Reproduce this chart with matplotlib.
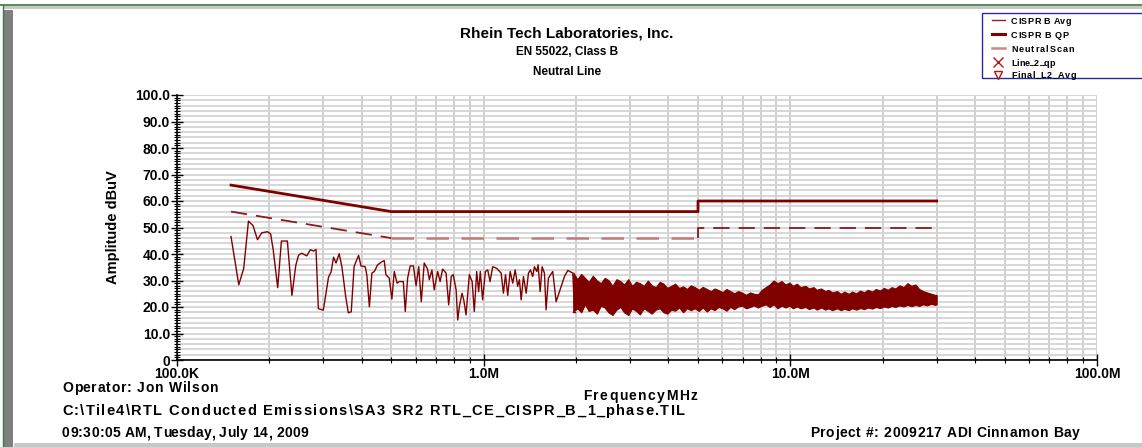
import numpy as np
import matplotlib
matplotlib.use("Agg")
import matplotlib.pyplot as plt
from matplotlib.lines import Line2D
from matplotlib.patches import Rectangle
from matplotlib.ticker import FixedLocator, FixedFormatter, NullFormatter, MultipleLocator

plt.rcParams['font.family'] = ['Liberation Sans', 'DejaVu Sans']
plt.rcParams['font.weight'] = 'bold'

# ---------------- data ----------------
qp_freq = [0.15, 0.5, 0.5, 5.0, 5.0, 30.0]
qp_level = [66, 56, 56, 56, 60, 60]

avg_freq = [0.15, 0.5, 5.0, 5.0, 30.0]
avg_level = [56, 46, 46, 50, 50]

scan_freq = [0.150, 0.159, 0.165, 0.171, 0.177, 0.183, 0.189, 0.197, 0.202, 0.206,
             0.213, 0.219, 0.229, 0.237, 0.244, 0.249, 0.255, 0.265, 0.272, 0.279,
             0.284, 0.289, 0.300, 0.312, 0.318, 0.324, 0.330, 0.338, 0.345, 0.355,
             0.362, 0.370, 0.378, 0.391, 0.398, 0.411, 0.416, 0.424, 0.432, 0.440,
             0.451, 0.466, 0.474, 0.480, 0.492, 0.502, 0.511, 0.522, 0.531, 0.547,
             0.555, 0.565, 0.576, 0.590, 0.602, 0.614, 0.626, 0.640, 0.656, 0.665,
             0.678, 0.690, 0.708, 0.721, 0.735, 0.754, 0.769, 0.784, 0.796, 0.813,
             0.823, 0.833, 0.850, 0.861, 0.876, 0.898, 0.917, 0.932, 0.949, 0.963,
             0.975, 0.992, 1.013, 1.031, 1.049, 1.070, 1.103, 1.140, 1.160, 1.178,
             1.198, 1.220, 1.244, 1.267, 1.291, 1.308, 1.325, 1.348, 1.376, 1.400,
             1.421, 1.445, 1.464, 1.490, 1.505, 1.528, 1.551, 1.578, 1.598, 1.626,
             1.680, 1.723, 1.834, 1.881, 1.953, 1.978]
scan_level = [46.6, 28.4, 34.5, 52.4, 50.7, 45.4, 48.0, 48.4, 47.6, 41.4,
              27.3, 44.9, 44.9, 24.4, 35.7, 39.5, 40.3, 39.3, 41.6, 41.1,
              41.7, 19.4, 18.8, 31.3, 33.2, 38.8, 36.6, 40.1, 35.1, 23.8,
              17.8, 18.2, 35.3, 39.5, 35.5, 35.2, 32.0, 20.1, 32.8, 33.4,
              35.9, 37.1, 37.5, 32.2, 30.9, 23.0, 33.4, 29.0, 29.6, 29.6,
              18.3, 30.9, 35.5, 35.5, 28.0, 35.2, 22.0, 36.6, 34.3, 30.3,
              34.0, 26.5, 33.4, 29.6, 34.3, 32.8, 20.8, 31.5, 32.2, 26.5,
              15.1, 20.1, 25.2, 22.7, 17.0, 32.2, 29.6, 18.3, 33.4, 25.8,
              33.4, 22.7, 33.4, 34.0, 29.6, 35.2, 34.6, 32.8, 25.2, 32.2,
              24.4, 33.4, 29.0, 34.0, 27.8, 30.3, 22.7, 31.5, 25.2, 32.8,
              34.0, 31.5, 35.2, 33.4, 35.9, 25.8, 35.2, 32.8, 18.9, 30.9,
              33.4, 22.0, 31.5, 33.8, 32.8, 18.3]

# dense part of the scan (2-30 MHz): frequency, upper and lower edge of the trace
band_rows = [
    (1.96, 33.0, 18.3), (2.02, 30.5, 19.5), (2.08, 32.5, 18.0), (2.14, 31.0, 21.0),
    (2.20, 29.5, 18.5), (2.27, 31.8, 19.0), (2.34, 30.0, 17.5), (2.41, 29.0, 20.5),
    (2.48, 31.0, 19.8), (2.55, 30.2, 18.0), (2.63, 28.0, 17.0), (2.71, 30.5, 19.0),
    (2.79, 29.8, 20.0), (2.87, 28.5, 18.0), (2.96, 30.5, 17.0), (3.05, 28.0, 19.5),
    (3.14, 29.5, 18.5), (3.23, 29.0, 17.2), (3.33, 28.0, 19.5), (3.43, 30.0, 18.5),
    (3.53, 28.2, 17.5), (3.64, 27.5, 19.0), (3.75, 29.5, 19.5), (3.86, 28.8, 18.0),
    (3.97, 27.2, 17.5), (4.09, 28.0, 19.0), (4.21, 28.8, 18.6), (4.34, 27.2, 19.8),
    (4.47, 27.8, 18.0), (4.60, 26.8, 19.5), (4.74, 28.2, 18.8), (4.88, 27.5, 19.5),
    (5.03, 26.5, 18.5), (5.18, 27.6, 19.8), (5.34, 26.8, 18.3), (5.50, 26.0, 19.5),
    (5.66, 27.0, 18.8), (5.83, 26.4, 20.0), (6.01, 25.6, 19.5), (6.19, 26.8, 18.6),
    (6.37, 26.0, 20.0), (6.56, 25.2, 19.2), (6.76, 26.0, 20.2), (6.96, 25.4, 20.5),
    (7.17, 24.6, 19.5), (7.39, 25.5, 20.0), (7.61, 25.0, 20.6), (7.84, 24.8, 19.8),
    (8.07, 26.5, 20.5), (8.31, 27.5, 21.0), (8.56, 28.5, 20.0), (8.82, 30.0, 21.0),
    (9.09, 29.0, 19.5), (9.36, 29.8, 20.5), (9.64, 28.5, 19.8), (9.93, 29.2, 20.5),
    (10.2, 28.0, 19.5), (10.5, 28.8, 20.2), (10.8, 27.5, 19.5), (11.2, 28.0, 20.0),
    (11.5, 27.0, 19.2), (11.9, 27.5, 19.8), (12.2, 26.5, 19.0), (12.6, 27.0, 19.8),
    (13.0, 26.0, 19.0), (13.3, 26.5, 19.5), (13.7, 25.5, 18.8), (14.2, 26.0, 19.5),
    (14.6, 25.0, 18.8), (15.0, 25.8, 19.3), (15.5, 25.0, 18.8), (15.9, 25.8, 19.5),
    (16.4, 25.2, 19.0), (16.9, 26.2, 19.6), (17.4, 25.5, 19.2), (17.9, 26.5, 19.8),
    (18.5, 25.8, 19.4), (19.0, 26.8, 20.0), (19.6, 26.2, 19.6), (20.2, 27.2, 20.2),
    (20.8, 26.5, 19.8), (21.4, 27.5, 20.4), (22.0, 27.0, 20.0), (22.7, 28.2, 20.6),
    (23.4, 27.5, 20.2), (24.1, 29.0, 20.8), (24.8, 28.0, 20.3), (25.6, 28.5, 20.8),
    (26.3, 26.8, 20.4), (27.1, 26.0, 21.0), (27.9, 25.5, 20.6), (28.8, 25.0, 21.2),
    (29.6, 24.6, 20.8), (30.0, 24.5, 21.0),
]
band_freq = [r[0] for r in band_rows]
band_top = [r[1] for r in band_rows]
band_bottom = [r[2] for r in band_rows]

x_tick_values = [0.1, 1.0, 10.0, 100.0]
x_tick_labels = ["100.0K", "1.0M", "10.0M", "100.0M"]
y_tick_values = [0, 10, 20, 30, 40, 50, 60, 70, 80, 90, 100]
y_tick_labels = ["0", "10.0", "20.0", "30.0", "40.0", "50.0", "60.0", "70.0", "80.0", "90.0", "100.0"]

legend_names = ["CISPR B Avg", "CISPR B QP", "NeutralScan", "Line_2_qp", "Final_L2_Avg"]

# ---------------- figure ----------------
W, H = 1142, 447
fig = plt.figure(figsize=(W / 100, H / 100), dpi=100)
renderer = fig.canvas.get_renderer()


def fx(px):
    return px / W


def fy(py):
    return 1 - py / H


def text_width(s, size):
    t = fig.text(0, 0, s, fontsize=size, fontweight='bold')
    w = t.get_window_extent(renderer).width
    t.remove()
    return w


def spaced_text(x0, x1, baseline, s, size):
    """Draw s (bold) with letters spread evenly so that it spans x0..x1 pixels."""
    wl = text_width("l", size)
    pos = [text_width(s[:i] + "l", size) - wl for i in range(len(s))]
    total = text_width(s, size)
    sp = ((x1 - x0) - total) / max(len(s) - 1, 1)
    for i, ch in enumerate(s):
        if ch != ' ':
            fig.text(fx(x0 + pos[i] + i * sp), fy(baseline), ch, ha='left', va='baseline',
                     fontsize=size, fontweight='bold')


ax = fig.add_axes([fx(177), fy(360), (1097 - 177) / W, (360 - 95) / H])
ax.set_xscale('log')
ax.set_xlim(0.1, 100)
ax.set_ylim(0, 100)

# grid
minor_x = [m * 10.0 ** e for e in (-1, 0, 1) for m in range(2, 10)]
for xv in minor_x + x_tick_values:
    ax.axvline(xv, color='#c8c8c8', lw=1.2, zorder=0)
for yv in range(0, 101, 2):
    ax.axhline(yv, color='#d4d4d4', lw=1.3, zorder=0)

dark = '#800000'
# limits
ax.plot(qp_freq, qp_level, color=dark, lw=2.0, zorder=3)
ax.plot(avg_freq[0:2], avg_level[0:2], color='#8b1a1a', lw=1.3, dashes=(9, 5), zorder=3)
ax.plot(avg_freq[1:3], avg_level[1:3], color='#c47a7a', lw=1.8, dashes=(9, 5), zorder=3)
ax.plot(avg_freq[2:5], avg_level[2:5], color='#8b1a1a', lw=1.3, dashes=(9, 5), zorder=3)

# scan
ax.plot(scan_freq, scan_level, color=dark, lw=1.0, zorder=2)
ax.fill_between(band_freq, band_bottom, band_top, facecolor=dark, edgecolor=dark, lw=0.8, zorder=2)
ax.plot([scan_freq[-1], band_freq[0]], [scan_level[-1], band_bottom[0]], color=dark, lw=1.0, zorder=2)

# ticks
ax.xaxis.set_major_locator(FixedLocator(x_tick_values))
ax.xaxis.set_major_formatter(FixedFormatter(x_tick_labels))
ax.xaxis.set_minor_locator(FixedLocator(minor_x))
ax.xaxis.set_minor_formatter(NullFormatter())
ax.yaxis.set_major_locator(FixedLocator(y_tick_values))
ax.yaxis.set_major_formatter(FixedFormatter(y_tick_labels))
ax.yaxis.set_minor_locator(MultipleLocator(1))
ax.tick_params(axis='both', which='major', direction='inout', length=8, width=1, colors='black',
               labelsize=10)
ax.tick_params(axis='both', which='minor', direction='inout', length=4, width=0.8, colors='black')
ax.tick_params(axis='x', which='major', pad=1)
ax.tick_params(axis='y', which='major', pad=1)
for lab in ax.get_xticklabels() + ax.get_yticklabels():
    lab.set_fontweight('bold')
for s in ('top', 'right'):
    ax.spines[s].set_visible(False)
for s in ('left', 'bottom'):
    ax.spines[s].set_color('black')
    ax.spines[s].set_linewidth(1.2)

# axis labels
fig.text(fx(113), fy(227), "Amplitude dBuV", rotation=90, ha='center', va='center',
         fontsize=10.5, fontweight='bold')
spaced_text(583, 697, 400, "FrequencyMHz", 10)

# titles
fig.text(fx(567), fy(33), "Rhein Tech Laboratories, Inc.", ha='center', va='center',
         fontsize=11, fontweight='bold')
fig.text(fx(567), fy(52), "EN 55022, Class B", ha='center', va='center', fontsize=8.5, fontweight='bold')
fig.text(fx(567), fy(72), "Neutral Line", ha='center', va='center', fontsize=8.5, fontweight='bold')

# footer
spaced_text(62, 218, 392, "Operator: Jon Wilson", 10)
spaced_text(62, 685, 415, r"C:\Tile4\RTL Conducted Emissions\SA3 SR2 RTL_CE_CISPR_B_1_phase.TIL", 10.5)
spaced_text(62, 308, 437, "09:30:05 AM, Tuesday, July 14, 2009", 10)
spaced_text(810, 1080, 437, "Project #: 2009217 ADI Cinnamon Bay", 10)

# window frame decorations
fig.add_artist(Line2D([0, 1], [fy(5), fy(5)], color='#3a7a3a', lw=1.2))
fig.add_artist(Rectangle((fx(3), fy(9)), 1 - fx(3), fy(6) - fy(9), color='#c8c8c8', lw=0))
fig.add_artist(Rectangle((fx(4), 0), fx(13) - fx(4), fy(10), color='#808080', lw=0))
fig.add_artist(Line2D([fx(3), fx(3)], [0, fy(5)], color='#3a7a3a', lw=1.0))
fig.add_artist(Rectangle((fx(14), 0), 1 - fx(14), fy(443), color='#c8c8c8', lw=0))

# legend box
fig.add_artist(Rectangle((fx(982), fy(78)), 1 - fx(982) + 0.01, fy(13) - fy(78),
                         facecolor='white', edgecolor='#2a2a9a', lw=1.0))
leg_y = [20, 34, 48, 62, 75]
leg_w = [60, 57, 63, 44, 65]
for i, name in enumerate(legend_names):
    yy = fy(leg_y[i])
    if i == 0:
        fig.add_artist(Line2D([fx(992), fx(1005)], [yy, yy], color='#9b1a1a', lw=1.0))
    elif i == 1:
        fig.add_artist(Line2D([fx(992), fx(1005)], [yy, yy], color=dark, lw=2.2))
    elif i == 2:
        fig.add_artist(Line2D([fx(992), fx(1005)], [yy, yy], color='#d08888', lw=1.8))
    elif i == 3:
        fig.add_artist(Line2D([fx(998)], [yy], marker='x', color='#c01010', ms=7, mew=1.0, ls='none'))
    else:
        fig.add_artist(Line2D([fx(998)], [yy], marker='v', markerfacecolor='none',
                              markeredgecolor='#c01010', ms=6, mew=1.0, ls='none'))
    spaced_text(1011, 1011 + leg_w[i], leg_y[i] + 3.5, name, 6.5)

fig.savefig("out.png", dpi=100)
